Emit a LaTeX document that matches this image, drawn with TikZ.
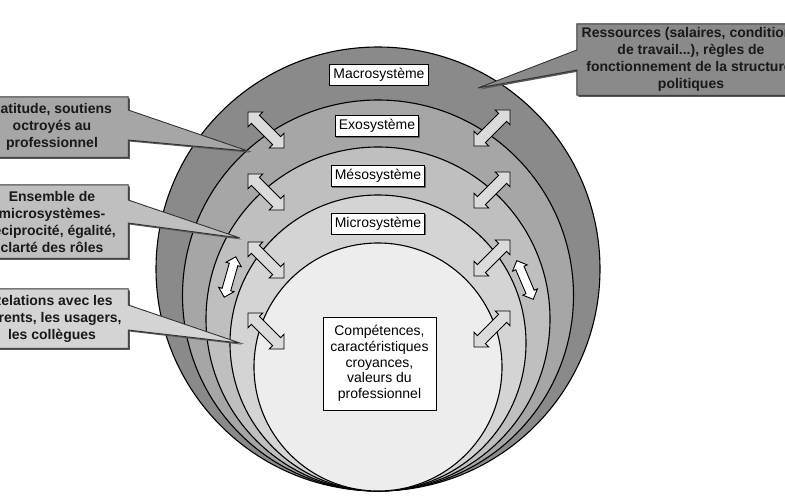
\documentclass[tikz,border=0pt]{standalone}
\usepackage{fontspec}
\setmainfont{Liberation Sans}
\usetikzlibrary{shapes.arrows,calc,shadows}
\pgfdeclarelayer{rings}
\pgfdeclarelayer{bubbles}
\pgfsetlayers{rings,bubbles,main}
\definecolor{macroc}{gray}{0.54}
\definecolor{exoc}{gray}{0.65}
\definecolor{mesoc}{gray}{0.75}
\definecolor{microc}{gray}{0.83}
\definecolor{corec}{gray}{0.93}
\definecolor{arrowc}{gray}{0.86}
\begin{document}
\begin{tikzpicture}[x=1pt,y=-1pt,
  ring/.style={circle, draw=black, line width=1.1pt, inner sep=0pt},
  lab/.style={draw=black, line width=1pt, fill=white, inner xsep=3.5pt, inner ysep=0pt,
    minimum height=21pt, font=\fontsize{14}{16}\selectfont,
    drop shadow={fill=black!60, opacity=1, shadow xshift=1pt, shadow yshift=-1pt}},
  bubtext/.style={align=center, inner sep=0pt, font=\fontsize{14}{17}\selectfont\bfseries, text=black!90},
  bubble/.style={draw=black!80, line width=0.9pt,
    drop shadow={fill=black!65, opacity=1, shadow xshift=1.6pt, shadow yshift=-1.6pt}},
  dblarrow/.style={double arrow, draw=black, line width=0.9pt, fill=arrowc,
    minimum height=51pt, inner sep=5.2pt, double arrow head extend=4.8pt},
  smallarrow/.style={double arrow, draw=black, line width=0.9pt, fill=white,
    minimum height=42pt, inner sep=4pt, double arrow head extend=3.5pt}
]
\useasboundingbox (0,0) rectangle (785,498);

% ---------------- rings ----------------
\begin{pgfonlayer}{rings}
\node[ring, minimum size=444pt, fill=macroc] (macro) at (378,269) {};
\node[ring, minimum size=391pt, fill=exoc]   (exo)   at (378,295.5) {};
\node[ring, minimum size=344pt, fill=mesoc]  (meso)  at (378,319) {};
\node[ring, minimum size=296pt, fill=microc] (micro) at (378,343) {};
\node[ring, minimum size=248pt, fill=corec]  (core)  at (378,367) {};
\end{pgfonlayer}

% ---------------- layer labels ----------------
\node[lab] (macrolab) at (379,74.5) {Macrosystème};
\node[lab] (exolab)   at (377,126) {Exosystème};
\node[lab] (mesolab)  at (378,176) {Mésosystème};
\node[lab] (microlab) at (378,223.5) {Microsystème};
\node[lab, align=center, minimum width=113pt, minimum height=93pt, inner sep=0pt,
  font=\fontsize{14}{15.7}\selectfont, line width=0.8pt] (corelab) at (379.5,363.5)
  {Compétences,\\caractéristiques\\croyances,\\valeurs du\\professionnel};

% ---------------- callout texts ----------------
\node[bubtext, minimum width=152pt, minimum height=60pt] (lat) at (52,127)
  {Latitude, soutiens\\octroyés au\\professionnel};
\node[bubtext, minimum width=152pt, minimum height=73pt] (ens) at (52,221.5)
  {Ensemble de\\microsystèmes-\\réciprocité, égalité,\\clarté des rôles};
\node[bubtext, minimum width=152pt, minimum height=59pt] (rel) at (52,318.5)
  {Relations avec les\\parents, les usagers,\\les collègues};
\node[bubtext, minimum width=228pt, minimum height=71pt] (res) at (691,59.5)
  {Ressources (salaires, conditions\\de travail...), règles de\\fonctionnement de la structure,\\politiques};

\coordinate (latTip) at (248,151);
\coordinate (ensTip) at (240,238);
\coordinate (relTip) at (240,343);
\coordinate (resTip) at (478,88);

\begin{pgfonlayer}{bubbles}
\path[bubble, fill=exoc] (lat.north west) -- (lat.north east) -- ($(lat.east)+(0,-17)$)
  -- (latTip) -- ($(lat.east)+(0,13)$) -- (lat.south east) -- (lat.south west) -- cycle;
\path[bubble, fill=mesoc] (ens.north west) -- (ens.north east) -- ($(ens.east)+(0,-21.5)$)
  -- (ensTip) -- ($(ens.east)+(0,1.5)$) -- (ens.south east) -- (ens.south west) -- cycle;
\path[bubble, fill=microc] (rel.north west) -- (rel.north east) -- ($(rel.east)+(0,-13.5)$)
  -- (relTip) -- ($(rel.east)+(0,11.5)$) -- (rel.south east) -- (rel.south west) -- cycle;
\path[bubble, fill=macroc] (res.north west) -- (res.north east) -- (res.south east)
  -- (res.south west) -- ($(res.west)+(0,10.5)$) -- (resTip) -- ($(res.west)+(0,-9.5)$) -- cycle;
\end{pgfonlayer}

% ---------------- double arrows ----------------
\node[dblarrow, rotate=-45] (la1) at (266,130) {};
\node[dblarrow, rotate=-45] (la2) at (266,192) {};
\node[dblarrow, rotate=-45] (la3) at (266,260) {};
\node[dblarrow, rotate=-45] (la4) at (266,331) {};
\node[dblarrow, rotate=45] (ra1) at (492,128) {};
\node[dblarrow, rotate=45] (ra2) at (492,190) {};
\node[dblarrow, rotate=45] (ra3) at (492,258) {};
\node[dblarrow, rotate=45] (ra4) at (492,329) {};
\node[smallarrow, rotate=74] (lw) at (230,277) {};
\node[smallarrow, rotate=113] (rw) at (525,280) {};
\end{tikzpicture}
\end{document}
